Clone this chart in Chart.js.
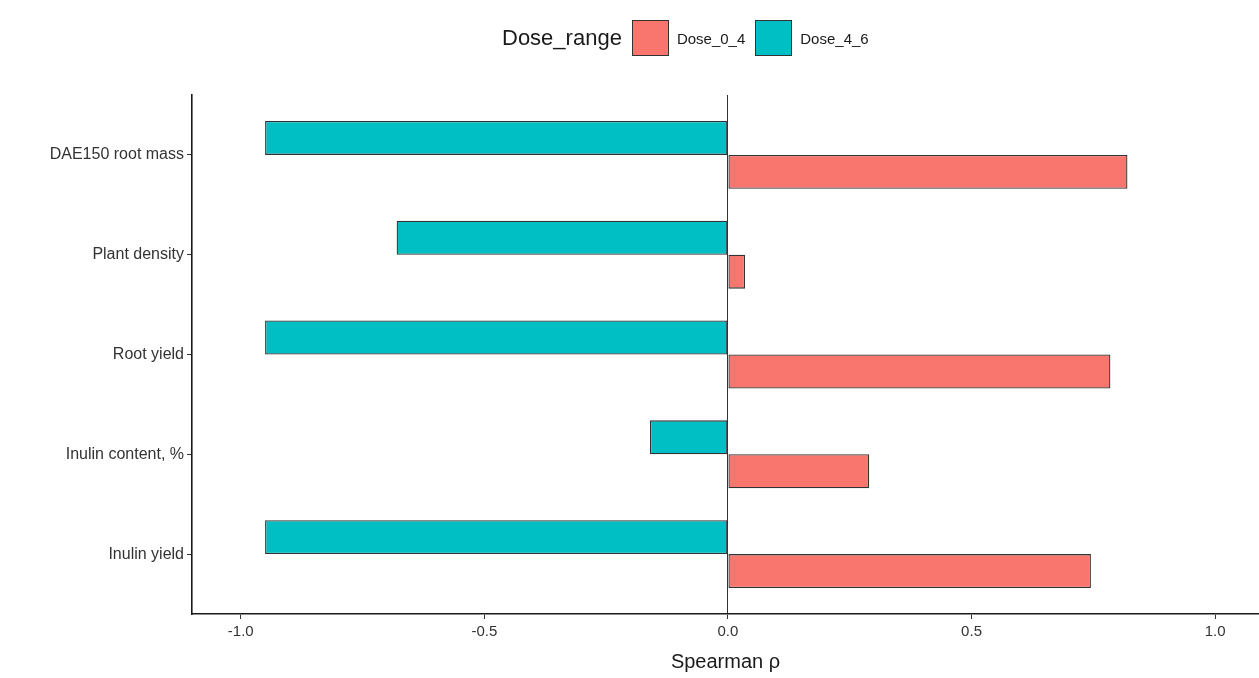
<!DOCTYPE html>
<html>
<head>
<meta charset="utf-8">
<script src="https://cdn.jsdelivr.net/npm/chart.js@4/dist/chart.umd.min.js"></script>
<style>
  body { margin: 0; background: #fff; font-family: "Liberation Sans", Arial, sans-serif; }
  #wrap { position: relative; width: 1259px; height: 678px; }
  #legend { position: absolute; top: 20px; left: 502px; display: flex; align-items: center; color: #1a1a1a; }
  #legend .title { font-size: 22px; margin-right: 10px; }
  #legend .box { width: 37px; height: 36px; border: 1.5px solid #333; box-sizing: border-box; margin-right: 8px; }
  #legend .lab { font-size: 15px; margin-right: 10px; }
</style>
</head>
<body>
<div id="wrap">
  <canvas id="chart" width="1259" height="678"></canvas>
  <div id="legend"><span class="title">Dose_range</span></div>
</div>
<script>
// categories top to bottom
var categories = ['DAE150 root mass', 'Plant density', 'Root yield', 'Inulin content, %', 'Inulin yield'];
// Spearman rho per dose range
var dose04 = [0.82, 0.035, 0.785, 0.29, 0.745];
var dose46 = [-0.95, -0.68, -0.95, -0.16, -0.95];
var xTicks = [-1.0, -0.5, 0.0, 0.5, 1.0];

var colorList = { 'Dose_0_4': '#F8766D', 'Dose_4_6': '#00BFC4' };

function toPoints(values) {
	var pts = [];
	for (var i = 0; i < values.length; i++) {
		pts.push({ x: values[i], y: i + 1 });
	}
	return pts;
}

// legend (ggplot order)
var legend = document.getElementById('legend');
['Dose_0_4', 'Dose_4_6'].forEach(function (name) {
	var b = document.createElement('span');
	b.className = 'box';
	b.style.background = colorList[name];
	legend.appendChild(b);
	var t = document.createElement('span');
	t.className = 'lab';
	t.textContent = name;
	legend.appendChild(t);
});

var ctx = document.getElementById('chart').getContext('2d');
var chart = new Chart(ctx, {
	type: 'bar',
	data: {
		datasets: [
			{
				label: 'Dose_4_6',
				data: toPoints(dose46),
				backgroundColor: colorList['Dose_4_6'],
				borderColor: '#333333',
				borderWidth: 1.3,
				borderSkipped: false,
			},
			{
				label: 'Dose_0_4',
				data: toPoints(dose04),
				backgroundColor: colorList['Dose_0_4'],
				borderColor: '#333333',
				borderWidth: 1.3,
				borderSkipped: false,
			},
		],
	},
	options: {
		responsive: false,
		animation: false,
		indexAxis: 'y',
		layout: { padding: { top: 95, right: 0, bottom: 0, left: 0 } },
		datasets: { bar: { categoryPercentage: 0.68, barPercentage: 1.0 } },
		plugins: { legend: { display: false }, tooltip: { enabled: false } },
		scales: {
			x: {
				type: 'linear',
				min: -1.1,
				max: 1.09,
				afterBuildTicks: function (scale) {
					scale.ticks = xTicks.map(function (v) { return { value: v }; });
				},
				afterFit: function (scale) { scale.height = 64; },
				ticks: {
					color: '#333333',
					font: { family: 'Liberation Sans', size: 15 },
					padding: 4,
					maxRotation: 0,
					callback: function (v) { return v.toFixed(1); },
				},
				grid: {
					color: function (c) { return c.tick && c.tick.value === 0 ? '#333333' : 'rgba(0,0,0,0)'; },
					lineWidth: 1,
					tickColor: '#333333',
					tickLength: 5,
					drawTicks: true,
				},
				border: { display: true, color: '#1a1a1a', width: 1.6 },
				title: {
					display: true,
					text: 'Spearman ρ',
					color: '#1a1a1a',
					font: { family: 'Liberation Sans', size: 20 },
					padding: { top: 2, bottom: 4 },
				},
			},
			y: {
				type: 'linear',
				reverse: true,
				offset: false,
				min: 0.4,
				max: 5.6,
				afterBuildTicks: function (scale) {
					scale.ticks = categories.map(function (c, i) { return { value: i + 1 }; });
				},
				afterFit: function (scale) { scale.width = 192; },
				ticks: {
					color: '#333333',
					font: { family: 'Liberation Sans', size: 16 },
					padding: 3,
					callback: function (v) { return categories[v - 1]; },
				},
				grid: {
					offset: false,
					drawOnChartArea: false,
					tickColor: '#333333',
					tickLength: 5,
				},
				border: { display: true, color: '#1a1a1a', width: 1.6 },
			},
		},
	},
});
</script>
</body>
</html>
